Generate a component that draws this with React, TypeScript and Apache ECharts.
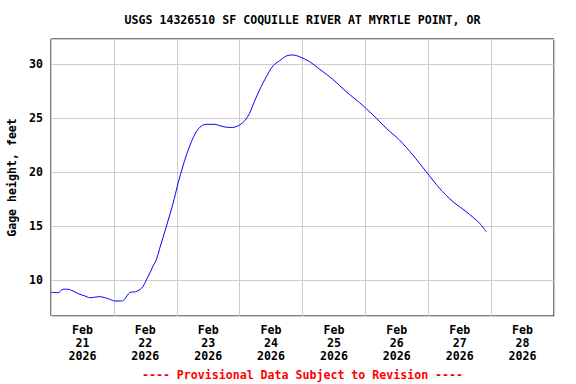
import React, { useEffect, useRef } from "react";
import * as echarts from "echarts";

const titleText = "USGS 14326510 SF COQUILLE RIVER AT MYRTLE POINT, OR";
const yAxisTitle = "Gage height, feet";
const footerText = "---- Provisional Data Subject to Revision ----";
const monthLabel = "Feb";
const yearLabel = "2026";
const dayLabels = ["21", "22", "23", "24", "25", "26", "27", "28"];

// hours since Feb 21 00:00
const hours = [
  0, 2.7, 4.6, 6.5, 8.4, 11, 12.9, 14.8, 16.7, 18.6, 20.5, 22.4, 24.3, 26.9, 28.1,
  30, 32.3, 34, 35.1, 36.4, 38.3, 38.9, 40.2, 41.5, 44, 46.6, 48.5, 50.4, 51.7,
  53.6, 55.5, 57.4, 59.3, 62.5, 64.4, 66.9, 69.4, 72, 73.9, 75.8, 77.1, 79.6,
  82.2, 84.7, 87.3, 89.8, 92.3, 94.9, 98.7, 102.5, 107.6, 112.7, 117.8, 122.9,
  128, 133, 138.1, 143.2, 148.3, 153.4, 158.5, 163.6, 166.1,
];
const gageHeight = [
  8.89, 8.85, 9.17, 9.17, 9.0, 8.7, 8.55, 8.39, 8.43, 8.48, 8.39, 8.24, 8.08, 8.08, 8.24,
  8.85, 8.94, 9.15, 9.41, 10.03, 10.95, 11.3, 11.88, 12.96, 14.96, 17.13, 18.98, 20.6, 21.6,
  22.83, 23.76, 24.29, 24.44, 24.44, 24.31, 24.17, 24.15, 24.38, 24.75, 25.46, 26.23, 27.62,
  28.85, 29.84, 30.33, 30.77, 30.86, 30.7, 30.24, 29.55, 28.6, 27.46, 26.44, 25.31,
  24.07, 22.99, 21.6, 20.06, 18.52, 17.28, 16.35, 15.28, 14.5,
];

const FONT = "'DejaVu Sans Mono', monospace";

export default function App() {
  const ref = useRef<HTMLDivElement>(null);
  useEffect(() => {
    if (!ref.current) return;
    const chart = echarts.init(ref.current, undefined, { renderer: "svg" });
    const seriesData = hours.map((h, i) => [h, gageHeight[i]]);
    const cats = dayLabels.map((d) => `${monthLabel}\n${d}\n${yearLabel}`);
    chart.setOption({
      animation: false,
      backgroundColor: "#ffffff",
      grid: {
        left: 51,
        right: 22,
        top: 39,
        bottom: 68,
        show: true,
        borderColor: "#000000",
        borderWidth: 1,
        backgroundColor: "transparent",
        containLabel: false,
        outerBoundsMode: "none",
      },
      xAxis: [
        {
          type: "value",
          min: 0,
          max: 192,
          interval: 24,
          axisLine: { show: false },
          axisTick: { show: false },
          axisLabel: { show: false },
          splitLine: { show: true, lineStyle: { color: "#cccccc", width: 1 } },
        },
        {
          type: "category",
          position: "bottom",
          data: cats,
          boundaryGap: true,
          axisLine: { show: false },
          axisTick: { show: false },
          splitLine: { show: false },
          axisLabel: {
            margin: 7,
            color: "#000000",
            fontFamily: FONT,
            fontWeight: "bold",
            fontSize: 11.6,
            lineHeight: 13.2,
            interval: 0,
          },
        },
      ],
      yAxis: {
        type: "value",
        min: 6.69,
        max: 32.34,
        splitNumber: 5,
        name: yAxisTitle,
        nameLocation: "middle",
        nameGap: 33,
        nameTextStyle: {
          color: "#000000",
          fontFamily: FONT,
          fontWeight: "bold",
          fontSize: 11.6,
        },
        axisLine: { show: false },
        axisTick: { show: false },
        axisLabel: {
          margin: 8,
          color: "#000000",
          fontFamily: FONT,
          fontWeight: "bold",
          fontSize: 11.6,
          showMinLabel: false,
          showMaxLabel: false,
        },
        splitLine: { show: true, lineStyle: { color: "#cccccc", width: 1 } },
      },
      series: [
        {
          type: "line",
          xAxisIndex: 0,
          data: seriesData,
          showSymbol: false,
          smooth: 0.3,
          lineStyle: { color: "#0000ff", width: 1 },
        },
      ],
      graphic: [
        {
          type: "text",
          x: 302.5,
          y: 20,
          style: {
            text: titleText,
            fill: "#000000",
            font: `bold 11.6px ${FONT}`,
            textAlign: "center",
            textVerticalAlign: "middle",
          },
        },
        {
          type: "text",
          x: 302.5,
          y: 375,
          style: {
            text: footerText,
            fill: "#ff0000",
            font: `bold 11.6px ${FONT}`,
            textAlign: "center",
            textVerticalAlign: "middle",
          },
        },
      ],
    });
    return () => chart.dispose();
  }, []);
  return (
    <div
      ref={ref}
      style={{ position: "fixed", left: 0, top: 0, width: 576, height: 384 }}
    />
  );
}
